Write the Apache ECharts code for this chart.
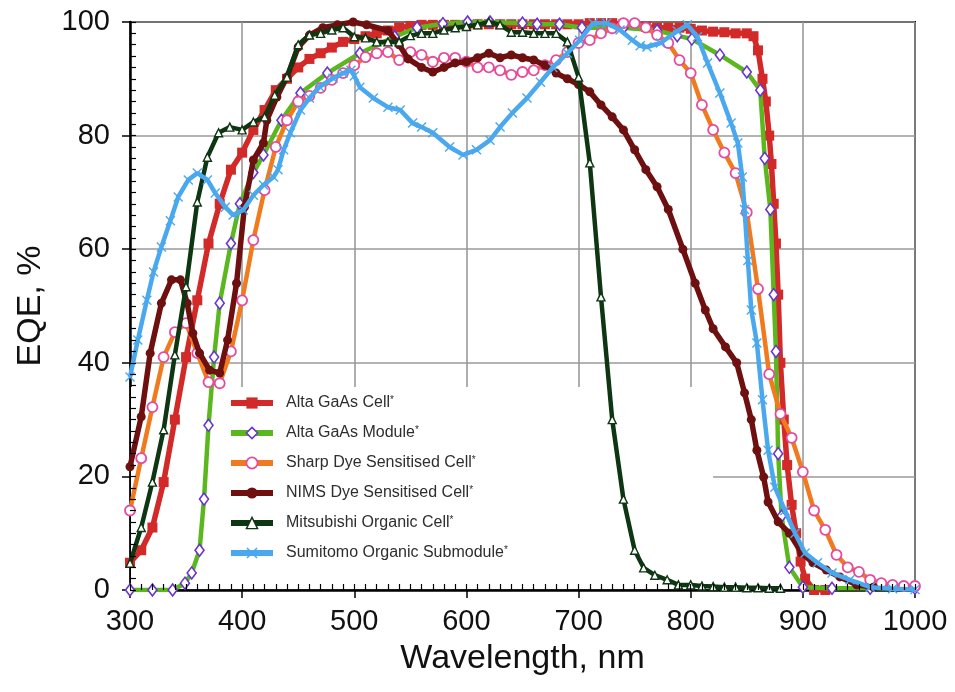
<!DOCTYPE html>
<html>
<head>
<meta charset="utf-8">
<script src="https://cdn.jsdelivr.net/npm/echarts@6/dist/echarts.min.js"></script>
<style>
  html, body { margin: 0; padding: 0; background: #fff; }
  #chart { width: 955px; height: 692px; }
</style>
</head>
<body>
<div id="chart"></div>
<script>
// External quantum efficiency (%) versus wavelength (nm)
const seriesNames = [
  'Alta GaAs Cell',
  'Alta GaAs Module',
  'Sharp Dye Sensitised Cell',
  'NIMS Dye Sensitised Cell',
  'Mitsubishi Organic Cell',
  'Sumitomo Organic Submodule'
];

const altaCellX = [300,310,320,330,340,350,360,370,380,390,400,410,420,430,440,450,460,470,480,490,500,510,520,530,540,550,560,570,580,590,600,610,620,630,640,650,660,670,680,690,700,710,720,730,740,750,760,770,780,790,800,810,820,830,840,850,856,860,864,867,870,872,874,876,878,880,883,886,890,894,898,902,910,920];
const altaCellY = [4.8,7,11,19,30,41,51,61,68,74,77,81,84.5,88,90,92,93.5,94.5,95.5,96.5,97,97.5,98,98.5,99,99.3,99.5,99.5,99.5,99.5,99.5,99.6,99.6,99.6,99.6,99.6,99.6,99.6,99.6,99.6,99.6,99.8,99.8,99.8,99.6,99.5,99.2,99,99,99,98.8,98.5,98.3,98.2,98,98,97.5,95,90,86,80,75,68,61,52,40,30,22,15,10,5,2,0,0];

const altaModuleX = [300,320,338,349,355,362,366,370,375,380,390,398,410,419,435,452,476,505,536,556,579,601,621,650,663,683,703,740,770,788,801,826,850,862,866,871,874,876,878,881,888,900,926,960,1000];
const altaModuleY = [0,0,0,1.2,3,7,16,29,41,50.5,61,68,73.5,76.6,82.7,87.5,91,94.5,97.4,99,99.7,100,100,99.8,99.6,99.6,99,99,98.5,97.6,97,94.2,91.2,88,76,67,52,42,24,13,4,0.5,0.3,0.3,0.3];

const sharpX = [300,310,320,330,340,350,360,370,380,390,400,410,420,430,440,450,460,470,480,490,500,510,520,530,540,550,560,570,580,590,600,610,620,630,640,650,660,670,680,690,700,710,720,730,740,750,760,770,780,790,800,810,820,830,840,850,860,870,880,890,900,910,920,930,940,950,960,970,980,990,1000];
const sharpY = [14,23.2,32.2,41,45.4,47,41.7,36.6,36.4,42,51,61.6,70.4,78,82.7,86,87,88.4,89.8,91,92.4,93.8,94.5,94.7,93.3,94.7,94.2,93,93.7,93.7,93,92,92,91.5,90.7,91.2,91.5,92.4,93.3,94.7,96.3,96.8,98,98.9,99.8,99.8,99,97.7,96.3,93.3,91,85.4,81,77,73.4,66.5,53,38,31,26.8,20.8,14,10.6,6.2,4,3.2,1.8,1.2,0.9,0.7,0.7];

const nimsX = [300,310,318,328,337,345,351,356,362,371,380,387,395,402,410,419,422,431,440,450,460,472,485,499,511,530,540,548,560,570,580,590,600,610,620,630,640,650,660,670,680,690,700,710,720,730,740,750,760,770,780,793,804,813,820,831,841,848,854,859,865,869,878,888,899,909,921,933,948,963];
const nimsY = [21.7,30.5,41.7,50.5,54.6,54.6,50.5,45.2,41.7,38.7,38.2,44,54,67.4,75.7,78.7,82.7,86.8,90.3,95.6,97.7,99,99.5,100,99.5,98.5,96,93.5,92,91.2,92,92.8,93,93.7,94.5,93.7,94.2,93.7,93.3,92.4,91,90,89,87.7,85.4,83.3,81,77.5,74,71,67,60,54,49.3,46,42.8,40,34.7,30,24.6,19.9,15.5,12,10,6.5,4.8,3.5,2.3,0.9,0.5];

const mitsubishiX = [300,310,320,330,340,350,360,369,379,389,400,410,420,429,440,450,460,470,480,490,500,510,520,530,540,550,560,570,580,590,600,610,620,630,640,650,660,670,680,690,700,710,720,730,740,750,758,768,779,789,800,810,820,830,840,850,860,870,880];
const mitsubishiY = [4.7,11,19,28.2,41.4,53.4,68.3,76.2,80.5,81.5,81,82.4,83.3,87.1,90.3,96,97.7,98,98.6,99,97.4,97.2,96.5,96.5,96.5,97.6,98,98,98.6,99,99.2,99.5,100,99.5,98.2,98.2,98,98,98,96.5,90.3,75.2,51.6,30,16,7,3.9,2.6,1.8,0.9,0.9,0.7,0.6,0.5,0.5,0.4,0.4,0.3,0.3];

const sumitomoX = [300,307,315,321,328,336,343,352,360,369,376,385,392,401,410,419,428,432,437,443,452,460,469,481,490,497,500,505,517,530,541,552,560,570,585,597,609,621,630,641,654,666,677,690,701,713,725,737,748,755,761,773,788,797,806,815,826,836,842,846,848,851,854,859,864,869,875,884,893,902,913,926,942,960,980,1000];
const sumitomoY = [37.5,44,51,56,60.4,65,69.2,72.2,73.4,72.2,69.9,67.4,66,66.9,69.5,71.3,72.7,74,77.5,80.5,84.5,86.6,88.6,90.1,91,91.5,90.5,88.5,86.6,85,84.5,82.2,81.5,80.5,78,76.6,77.5,79.2,81.5,84,86.6,89.4,92,94.5,96.8,99.8,99.8,98.6,96.8,95.8,95.6,96.3,98.4,99.5,97.4,92.8,87.5,82.2,78.7,72.7,67,58,49.3,43.5,33.5,24.6,18.1,14,10,6.5,4.8,3,1.8,0.5,0.2,0.1];

const xTicks = [300, 400, 500, 600, 700, 800, 900, 1000];
const yTicks = [0, 20, 40, 60, 80, 100];

function pairs(xs, ys) {
  return xs.map((x, i) => [x, ys[i]]);
}

const crossSymbol = 'path://M0,1L1,0L5,4L9,0L10,1L6,5L10,9L9,10L5,6L1,10L0,9L4,5Z';

const styles = [
  { line: '#d22a28', width: 5.5, symbol: 'rect', size: 10, fill: '#d22a28', border: '#d22a28', bw: 0 },
  { line: '#5ab81e', width: 4.5, symbol: 'diamond', size: [9, 12], fill: '#ffffff', border: '#6a34d0', bw: 1.6 },
  { line: '#f07a1e', width: 4.5, symbol: 'circle', size: 10, fill: '#ffffff', border: '#e64a9e', bw: 1.8 },
  { line: '#6e1010', width: 5.5, symbol: 'circle', size: 9, fill: '#6e1010', border: '#6e1010', bw: 0 },
  { line: '#0e3612', width: 4.5, symbol: 'triangle', size: 8, fill: '#ffffff', border: '#0e3612', bw: 1.4 },
  { line: '#4aa8ee', width: 4.5, symbol: crossSymbol, size: 10, fill: '#4aa8ee', border: '#4aa8ee', bw: 0 }
];

const dataSets = [
  pairs(altaCellX, altaCellY),
  pairs(altaModuleX, altaModuleY),
  pairs(sharpX, sharpY),
  pairs(nimsX, nimsY),
  pairs(mitsubishiX, mitsubishiY),
  pairs(sumitomoX, sumitomoY)
];

const series = seriesNames.map((name, i) => ({
  name: name,
  type: 'line',
  xAxisIndex: 0,
  yAxisIndex: 0,
  data: dataSets[i],
  symbol: styles[i].symbol,
  symbolSize: styles[i].size,
  showAllSymbol: true,
  lineStyle: { color: styles[i].line, width: styles[i].width },
  itemStyle: { color: styles[i].fill, borderColor: styles[i].border, borderWidth: styles[i].bw },
  emphasis: { disabled: true },
  z: 2 + i * 0.01,
  animation: false
}));

const legendItems = seriesNames.map((name, i) => ({
  name: name,
  lineStyle: { color: styles[i].line, width: 6 },
  itemStyle: { color: styles[i].fill, borderColor: styles[i].border, borderWidth: styles[i].bw }
}));

const chart = echarts.init(document.getElementById('chart'), null, { renderer: 'canvas' });

const axisFont = 'Liberation Sans, Arial, Helvetica, sans-serif';

chart.setOption({
  backgroundColor: '#ffffff',
  animation: false,
  grid: {
    left: 130, right: 40, top: 22, bottom: 102,
    show: true, borderColor: '#000', borderWidth: 2, backgroundColor: 'transparent'
  },
  graphic: [{
    type: 'rect',
    z: 1,
    shape: { x: 131, y: 387, width: 582, height: 202 },
    style: { fill: '#ffffff' },
    silent: true
  }],
  legend: {
    data: legendItems,
    orient: 'vertical',
    left: 228,
    top: 395,
    padding: 0,
    itemWidth: 42,
    itemHeight: 14,
    itemGap: 14,
    selectedMode: false,
    formatter: name => '{a|' + name + '}{s|*}',
    textStyle: {
      padding: [0, 0, 0, 8],
      rich: {
        a: { fontFamily: axisFont, fontSize: 16, color: '#2e2e2e', lineHeight: 16 },
        s: { fontFamily: axisFont, fontSize: 10, color: '#2e2e2e', verticalAlign: 'top', lineHeight: 16 }
      }
    }
  },
  xAxis: [{
    type: 'value',
    min: 300, max: 1000, interval: 100,
    name: 'Wavelength, nm',
    nameLocation: 'middle',
    nameGap: 52,
    nameTextStyle: { fontFamily: axisFont, fontSize: 34, color: '#111' },
    axisLine: { lineStyle: { color: '#000', width: 2.5 } },
    axisTick: { show: true, inside: false, length: 8, lineStyle: { color: '#000', width: 1.5 } },
    axisLabel: {
      margin: 17, fontFamily: axisFont, fontSize: 29, color: '#111',
      formatter: v => xTicks.includes(v) ? String(v) : ''
    },
    splitLine: { show: true, lineStyle: { color: '#9a9a9a', width: 1.6 } }
  }, {
    type: 'value',
    position: 'bottom',
    min: 300, max: 1000, interval: 100,
    z: 3,
    axisLine: { show: false },
    axisTick: { show: true, inside: true, length: 6, lineStyle: { color: '#000', width: 1.2 } },
    minorTick: { show: true, splitNumber: 10, length: 6, lineStyle: { color: '#000', width: 1.2 } },
    axisLabel: { show: false },
    splitLine: { show: false }
  }],
  yAxis: [{
    type: 'value',
    min: 0, max: 100, interval: 20,
    name: 'EQE, %',
    nameLocation: 'middle',
    nameGap: 82,
    nameTextStyle: { fontFamily: axisFont, fontSize: 34, color: '#111' },
    axisLine: { show: true, lineStyle: { color: '#000', width: 2.5 } },
    axisTick: { show: true, inside: false, length: 8, lineStyle: { color: '#000', width: 1.5 } },
    axisLabel: {
      margin: 20, fontFamily: axisFont, fontSize: 29, color: '#111',
      formatter: v => yTicks.includes(v) ? String(v) : ''
    },
    splitLine: { show: true, lineStyle: { color: '#9a9a9a', width: 1.6 } }
  }, {
    type: 'value',
    position: 'left',
    min: 0, max: 100, interval: 20,
    z: 3,
    axisLine: { show: false },
    axisTick: { show: true, inside: true, length: 6, lineStyle: { color: '#000', width: 1.2 } },
    minorTick: { show: true, splitNumber: 10, length: 6, lineStyle: { color: '#000', width: 1.2 } },
    axisLabel: { show: false },
    splitLine: { show: false }
  }],
  series: series
});
</script>
</body>
</html>
